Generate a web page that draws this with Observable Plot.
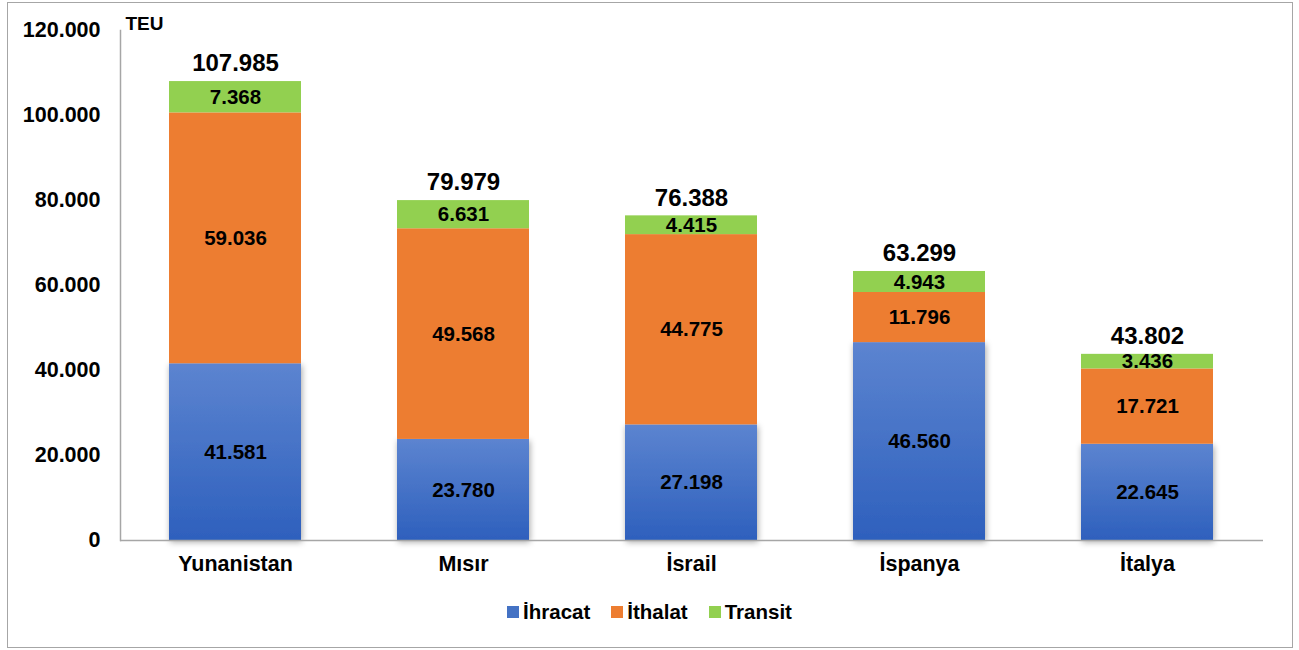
<!DOCTYPE html>
<html>
<head>
<meta charset="utf-8">
<script src="https://cdn.jsdelivr.net/npm/d3@7"></script>
<script src="https://cdn.jsdelivr.net/npm/@observablehq/plot@0.6"></script>
<style>
  body { margin: 0; background: #fff; font-family: "Liberation Sans", Arial, sans-serif; }
  #wrap { position: relative; width: 1299px; height: 650px; overflow: hidden; }
  #border { position: absolute; left: 7px; top: 2px; width: 1286px; height: 646px; border: 1px solid #a6a6a6; box-sizing: border-box; }
  #chart { position: absolute; left: 0; top: 0; }
  #legend { position: absolute; left: 0; top: 600px; width: 1299px; display: flex; justify-content: center; gap: 21px;
            font-weight: bold; font-size: 20.5px; line-height: 24px; color: #000; }
  .item { display: flex; align-items: center; gap: 4px; }
  .sw { width: 12px; height: 12px; display: inline-block; }
</style>
</head>
<body>
<div id="wrap">
  <div id="border"></div>
  <div id="chart"></div>
  <div id="legend"></div>
</div>
<script>
// ---- data ----
const countries = ["Yunanistan", "Mısır", "İsrail", "İspanya", "İtalya"];
const seriesNames = ["İhracat", "İthalat", "Transit"];
const ihracat = [41581, 23780, 27198, 46560, 22645];
const ithalat = [59036, 49568, 44775, 11796, 17721];
const transit = [7368, 6631, 4415, 4943, 3436];
const yTicks = [0, 20000, 40000, 60000, 80000, 100000, 120000];
const seriesColors = ["url(#blueGrad)", "#ED7D31", "#92D050"];
const legendColors = ["#4472C4", "#ED7D31", "#92D050"];

// ---- derived table ----
const seriesValues = [ihracat, ithalat, transit];
const rows = [];
const totals = [];
countries.forEach((c, i) => {
  let acc = 0;
  seriesValues.forEach((vals, s) => {
    rows.push({country: c, series: seriesNames[s], value: vals[i], y1: acc, y2: acc + vals[i]});
    acc += vals[i];
  });
  totals.push({country: c, total: acc});
});

const tr = d3.formatLocale({decimal: ",", thousands: ".", grouping: [3], currency: ["", ""]});
const fmt = tr.format(",d");
const font = '"Liberation Sans", Arial, sans-serif';

const barMarks = seriesNames.map((s, k) =>
  Plot.barY(rows.filter(r => r.series === s), {x: "country", y1: "y1", y2: "y2", fill: seriesColors[k]})
);

const plot = Plot.plot({
  width: 1299,
  height: 590,
  marginTop: 30,
  marginBottom: 50,
  marginLeft: 120,
  marginRight: 36,
  style: {fontFamily: font, fontWeight: "bold", fontSize: "21.5px", color: "#000", background: "transparent", overflow: "visible"},
  x: {domain: countries, paddingInner: 0.42, paddingOuter: 0.21, label: null, tickSize: 0, tickPadding: 15},
  y: {domain: [0, 120000], ticks: yTicks, tickFormat: d => fmt(d), tickSize: 0, tickPadding: 20, label: null},
  marks: [
    ...barMarks,
    Plot.frame({anchor: "left", stroke: "#a6a6a6", strokeWidth: 1.5}),
    Plot.ruleY([0], {stroke: "#a6a6a6", strokeWidth: 1.5}),
    Plot.text(rows, {x: "country", y: d => (d.y1 + d.y2) / 2, text: d => fmt(d.value), fill: "#000", fontSize: 20.5, fontWeight: "bold", lineAnchor: "middle"}),
    Plot.text(totals, {x: "country", y: "total", text: d => fmt(d.total), fill: "#000", fontSize: 24, fontWeight: "bold", dy: -18, lineAnchor: "middle"}),
    Plot.text(["TEU"], {frameAnchor: "top-left", text: d => d, textAnchor: "start", dx: 5, dy: -7, fill: "#000", fontSize: 19, fontWeight: "bold", lineAnchor: "middle"})
  ]
});

// gradient + shadow for the blue bars
const ns = "http://www.w3.org/2000/svg";
const defs = document.createElementNS(ns, "defs");
defs.innerHTML = `
  <linearGradient id="blueGrad" x1="0" y1="0" x2="0" y2="1">
    <stop offset="0" stop-color="#5C84D0"/>
    <stop offset="1" stop-color="#2E60BD"/>
  </linearGradient>
  <filter id="shadow" x="-20%" y="-20%" width="140%" height="140%">
    <feDropShadow dx="1" dy="2" stdDeviation="3" flood-color="#000" flood-opacity="0.35"/>
  </filter>`;
plot.insertBefore(defs, plot.firstChild);
plot.querySelectorAll('g[fill="url(#blueGrad)"]').forEach(g => g.setAttribute("filter", "url(#shadow)"));

document.getElementById("chart").appendChild(plot);

// legend
const legend = document.getElementById("legend");
seriesNames.forEach((s, k) => {
  const item = document.createElement("div");
  item.className = "item";
  const sw = document.createElement("span");
  sw.className = "sw";
  sw.style.background = legendColors[k];
  const t = document.createElement("span");
  t.textContent = s;
  item.appendChild(sw);
  item.appendChild(t);
  legend.appendChild(item);
});
</script>
</body>
</html>
